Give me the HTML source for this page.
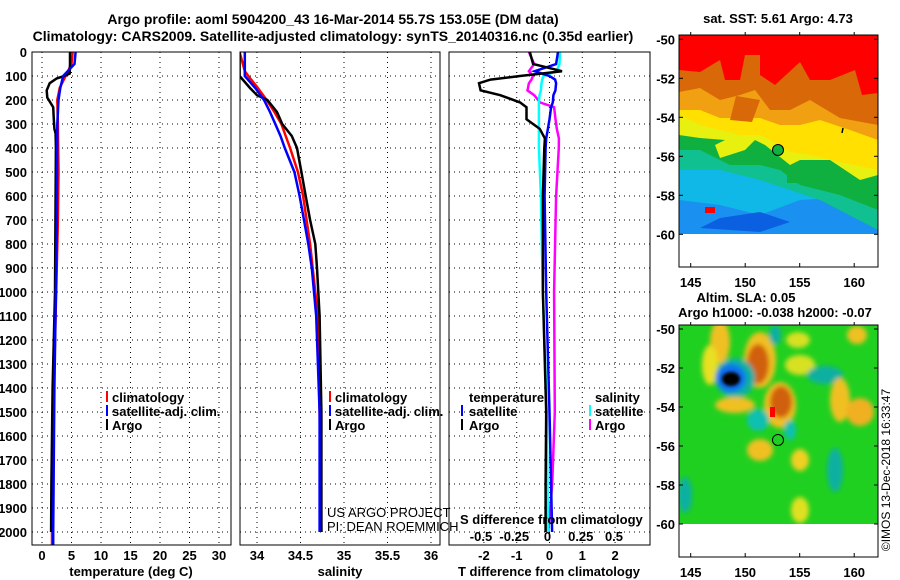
<!DOCTYPE html>
<html><head><meta charset="utf-8"><style>
body{margin:0;background:#fff;}
svg{display:block;font-family:"Liberation Sans",Arial,sans-serif;}
.b{font-weight:bold;font-size:13px;}
.t{font-weight:bold;font-size:14px;}
</style></head><body>
<svg id="fig" width="900" height="580" viewBox="0 0 900 580">
<defs>
<filter id="bl" x="-20%" y="-20%" width="140%" height="140%"><feGaussianBlur stdDeviation="2.5"/></filter>
<filter id="bl2" x="-20%" y="-20%" width="140%" height="140%"><feGaussianBlur stdDeviation="1.5"/></filter>
<clipPath id="c1"><rect x="679" y="35" width="199" height="199"/></clipPath>
<clipPath id="c2"><rect x="679" y="325" width="199" height="199"/></clipPath>
<clipPath id="p1"><rect x="32" y="52" width="199" height="493"/></clipPath>
<clipPath id="p2"><rect x="240" y="52" width="200" height="493"/></clipPath>
<clipPath id="p3"><rect x="449" y="52" width="201" height="493"/></clipPath>
</defs>
<text class="t" x="333" y="24" text-anchor="middle">Argo profile: aoml 5904200_43 16-Mar-2014 55.7S 153.05E (DM data)</text>
<text class="t" x="333" y="41" text-anchor="middle">Climatology: CARS2009. Satellite-adjusted climatology: synTS_20140316.nc (0.35d earlier)</text>
<g id="grid"></g>
<g id="series"></g>
<g id="frames"></g>

<g class="b">
<rect x="106" y="391" width="2" height="11" fill="#f00"/><text x="112" y="402">climatology</text>
<rect x="106" y="405" width="2" height="11" fill="#00f"/><text x="112" y="416">satellite-adj. clim.</text>
<rect x="106" y="419" width="2" height="11" fill="#000"/><text x="112" y="430">Argo</text>
</g>
<g class="b">
<rect x="329" y="391" width="2" height="11" fill="#f00"/><text x="335" y="402">climatology</text>
<rect x="329" y="405" width="2" height="11" fill="#00f"/><text x="335" y="416">satellite-adj. clim.</text>
<rect x="329" y="419" width="2" height="11" fill="#000"/><text x="335" y="430">Argo</text>
</g>
<g class="b">
<text x="469" y="402">temperature</text>
<rect x="461" y="405" width="2" height="11" fill="#00f"/><text x="469" y="416">satellite</text>
<rect x="461" y="419" width="2" height="11" fill="#000"/><text x="469" y="430">Argo</text>
<text x="595" y="402">salinity</text>
<rect x="589" y="405" width="2" height="11" fill="#0ff"/><text x="595" y="416">satellite</text>
<rect x="589" y="419" width="2" height="11" fill="#f0f"/><text x="595" y="430">Argo</text>
</g>
<text x="327" y="517" font-size="13">US ARGO PROJECT</text>
<text x="327" y="531" font-size="13">PI: DEAN ROEMMICH</text>
<text class="b" x="460" y="524">S difference from climatology</text>

<g>
<rect x="679" y="35" width="199" height="232" fill="#fff"/>
<g clip-path="url(#c1)">
<rect x="679" y="35" width="199" height="199" fill="#10b8e8"/>
<polygon points="679,200 720,205 760,215 800,200 878,195 878,234 679,234" fill="#1a90f0"/>
<polygon points="700,228 760,232 790,222 760,212 720,218" fill="#0a60e0"/>
<polygon points="679,120 878,120 878,230 820,200 790,190 760,180 720,170 679,170" fill="#10c090"/>
<polygon points="679,130 878,130 878,210 840,195 800,185 780,170 760,165 730,165 700,150 679,150" fill="#10b040"/>
<polygon points="679,80 878,80 878,175 860,180 830,160 800,160 790,165 765,145 755,140 745,150 720,158 715,145 725,140 700,138 679,135" fill="#e8f010"/>
<polygon points="679,80 878,80 878,170 840,162 810,155 790,152 770,140 760,135 740,135 720,130 700,125 679,115" fill="#ffe000"/>
<polygon points="679,60 878,60 878,140 850,130 820,120 800,125 780,125 760,118 740,118 720,118 700,110 679,110" fill="#f0a010"/>
<polygon points="679,55 878,55 878,125 840,118 810,100 790,110 770,110 755,90 740,95 720,100 700,88 679,92" fill="#d86808"/>
<polygon points="679,35 878,35 878,93 862,95 855,70 830,80 810,80 800,62 775,85 760,75 760,55 745,55 740,80 725,80 720,60 700,72 679,70" fill="#ff0000"/>
<polygon points="736,96 760,100 752,122 730,120" fill="#d86808"/>
<rect x="705" y="207" width="10" height="6" fill="#f00"/>
<rect x="787" y="165" width="14" height="18" fill="#10b040"/>
</g>
<circle cx="778" cy="150" r="5.5" fill="#10b040" stroke="#000" stroke-width="1"/>
<path d="M843 128 l-1 5" stroke="#000" stroke-width="1.5"/>
<rect x="679" y="35" width="199" height="232" fill="none" stroke="#000" stroke-width="1"/>
<text class="b" x="778" y="23" text-anchor="middle">sat. SST: 5.61 Argo: 4.73</text>
</g>

<g>
<rect x="679" y="325" width="199" height="232" fill="#fff"/>
<g clip-path="url(#c2)">
<rect x="679" y="325" width="199" height="199" fill="#20d020"/>
<g filter="url(#bl)">
<ellipse cx="720" cy="342" rx="10" ry="22" fill="#f0c020"/>
<ellipse cx="760" cy="360" rx="16" ry="28" fill="#f0c020"/>
<ellipse cx="758" cy="364" rx="11" ry="20" fill="#d06008"/>
<ellipse cx="710" cy="365" rx="8" ry="20" fill="#e8e020"/>
<ellipse cx="735" cy="378" rx="20" ry="20" fill="#10b0a0"/>
<ellipse cx="731" cy="378" rx="15" ry="14" fill="#1070f0"/>
<ellipse cx="735" cy="405" rx="20" ry="8" fill="#f0c020"/>
<ellipse cx="780" cy="405" rx="16" ry="23" fill="#f0c020"/>
<ellipse cx="781" cy="402" rx="11" ry="16" fill="#d06008"/>
<ellipse cx="758" cy="420" rx="11" ry="11" fill="#10c0b0"/>
<ellipse cx="790" cy="430" rx="6" ry="10" fill="#10c0b0"/>
<ellipse cx="800" cy="365" rx="15" ry="10" fill="#d8e020"/>
<ellipse cx="825" cy="375" rx="18" ry="9" fill="#10b0a0"/>
<ellipse cx="840" cy="400" rx="10" ry="22" fill="#f0c020"/>
<ellipse cx="860" cy="412" rx="14" ry="14" fill="#f0b020"/>
<ellipse cx="760" cy="450" rx="13" ry="11" fill="#f0c020"/>
<ellipse cx="800" cy="460" rx="9" ry="11" fill="#f0d020"/>
<ellipse cx="835" cy="470" rx="8" ry="22" fill="#10b0a0"/>
<ellipse cx="685" cy="495" rx="7" ry="18" fill="#10b0a0"/>
<ellipse cx="800" cy="510" rx="9" ry="13" fill="#e0e020"/>
<ellipse cx="857" cy="335" rx="10" ry="9" fill="#f0c020"/>
<ellipse cx="775" cy="335" rx="6" ry="10" fill="#10b0a0"/>
<ellipse cx="798" cy="340" rx="12" ry="8" fill="#d8e020"/>
</g>
<ellipse cx="731" cy="379" rx="9" ry="7" fill="#000" filter="url(#bl2)"/>
<rect x="770" y="407" width="5" height="10" fill="#f00"/>
</g>
<circle cx="778" cy="440" r="5.5" fill="#20d020" stroke="#000" stroke-width="1"/>
<rect x="679" y="325" width="199" height="232" fill="none" stroke="#000" stroke-width="1"/>
<text class="b" x="746" y="302" text-anchor="middle">Altim. SLA: 0.05</text>
<text class="b" x="775" y="317" text-anchor="middle">Argo h1000: -0.038 h2000: -0.07</text>
</g>
<text x="890" y="470" font-size="12" transform="rotate(-90 890 470)" text-anchor="middle">©IMOS 13-Dec-2018 16:33:47</text>
<g id="mapaxes"></g>
</svg>
<script>
const depths      = [0,50,90,100,110,130,160,190,210,230,280,320,340,400,600,800,1000,1400,1800,2000];
const argoT       = [4.75,4.75,4.7,3.8,2.5,1.3,0.8,0.9,1.4,1.9,2.0,2.1,2.3,2.35,2.3,2.25,2.2,1.8,1.6,1.55];
const climDepths  = [0,50,100,150,200,300,500,700,1000,1400,2000,2060];
const climT       = [5.2,5.0,4.0,3.0,2.6,2.7,2.8,2.7,2.4,2.0,1.7,1.7];
const satT        = [5.7,5.5,3.6,3.1,2.8,2.6,2.55,2.5,2.35,2.1,1.9,1.9];
const sDepths     = [0,80,100,150,180,200,250,300,350,400,500,600,700,800,900,1100,1500,2000];
const argoS       = [33.8,33.8,33.8,33.92,34.0,34.12,34.23,34.29,34.40,34.46,34.51,34.56,34.61,34.67,34.69,34.72,34.74,34.74];
const climS       = [33.8,33.86,33.9,34.01,34.07,34.11,34.2,34.28,34.33,34.38,34.47,34.53,34.57,34.61,34.64,34.70,34.72,34.74];
const satS        = [33.86,33.86,33.86,33.98,34.04,34.08,34.15,34.21,34.27,34.32,34.43,34.49,34.54,34.59,34.63,34.68,34.72,34.72];
const dDepths     = [0,50,80,100,115,130,160,180,210,230,280,320,360,400,600,1000,1500,1800,2000];
const argoDT      = [-0.6,-0.5,0.38,-0.9,-1.8,-2.15,-2.1,-1.5,-0.9,-0.7,-0.7,-0.3,-0.14,-0.16,-0.2,-0.2,-0.1,-0.12,-0.12];
const satDT       = [0.26,0.2,-0.45,0.0,0.17,0.2,0.18,0.12,0.1,0.05,0.0,-0.05,-0.1,-0.12,-0.15,-0.1,0.0,0.05,0.08];
const satDS       = [0.094,0.09,0.07,-0.03,-0.04,-0.045,-0.05,-0.06,-0.065,-0.065,-0.065,-0.065,-0.065,-0.065,-0.05,-0.035,-0.005,0.0,0.003];
const argoDS      = [-0.14,-0.1,-0.14,-0.11,-0.12,-0.14,-0.15,-0.1,-0.056,0.05,0.06,0.07,0.086,0.085,0.065,0.05,0.055,0.035,0.005];
const depthTicks  = [0,100,200,300,400,500,600,700,800,900,1000,1100,1200,1300,1400,1500,1600,1700,1800,1900,2000];
const tTicks      = [0,5,10,15,20,25,30];
const sTicks      = [34,34.5,35,35.5,36];
const dtTicks     = [-2,-1,0,1,2];
const dsTicks     = [-0.5,-0.25,0,0.25,0.5];
const latTicks    = [-50,-52,-54,-56,-58,-60];
const lonTicks    = [145,150,155,160];

const NS='http://www.w3.org/2000/svg';
const yD = d => 52 + d*0.24;
const xT = t => 42 + t*5.9;
const xS = s => 257 + (s-34)*87;
const xDT = v => 549.5 + v*32.8;
const xDS = v => 547.5 + v*133;
const yLat1 = l => 39.3 + (-50-l)*19.5;
const yLat2 = l => 329 + (-50-l)*19.5;
const xLon = l => 690.7 + (l-145)*10.9;

function mk(tag, attrs, parent){const e=document.createElementNS(NS,tag);for(const k in attrs)e.setAttribute(k,attrs[k]);document.getElementById(parent).appendChild(e);return e;}
const panels=[{x0:32,x1:231,ticks:tTicks,f:xT,title:'temperature (deg C)',tx:131,name:'temperature'},
              {x0:240,x1:440,ticks:sTicks,f:xS,title:'salinity',tx:340,name:'salinity'},
              {x0:449,x1:650,ticks:dtTicks,f:xDT,title:'T difference from climatology',tx:549,name:'difference'}];
panels.forEach(p=>{
  depthTicks.forEach(d=>{
    const l=mk('line',{x1:p.x0,x2:p.x1,y1:yD(d),y2:yD(d),stroke:'#000','stroke-width':1,'stroke-dasharray':'1,4'},'grid');
    
    
  });
  p.ticks.forEach(v=>{
    const x=p.f(v);
    const l=mk('line',{x1:x,x2:x,y1:52,y2:545,stroke:'#000','stroke-width':1,'stroke-dasharray':'1,4'},'grid');
    
    
    const t=mk('text',{x:x,y:560,'text-anchor':'middle','font-size':13,'font-weight':'bold'},'frames');
    t.textContent=String(v);
    
    
  });
  const r=mk('rect',{x:p.x0,y:52,width:p.x1-p.x0,height:493,fill:'none',stroke:'#000','stroke-width':1},'frames');
  
  
  const tt=mk('text',{x:p.tx,y:576,'text-anchor':'middle','font-size':13,'font-weight':'bold'},'frames');
  tt.textContent=p.title;
  
  
});
depthTicks.forEach(d=>{
  const t=mk('text',{x:27,y:yD(d)+5,'text-anchor':'end','font-size':13,'font-weight':'bold'},'frames');
  t.textContent=String(d);
  
  
});
dsTicks.forEach(v=>{
  const t=mk('text',{x:xDS(v),y:541,'text-anchor':'middle','font-size':13,'font-weight':'bold'},'frames');
  t.textContent=String(v);
  
  
});
function series(ds,vals,fx,color,clip,name){
  const pts=ds.map((d,i)=>fx(vals[i]).toFixed(1)+','+yD(d).toFixed(1)).join(' ');
  const pl=mk('polyline',{points:pts,fill:'none',stroke:color,'stroke-width':2.5,'clip-path':'url(#'+clip+')'},'series');
  
  
}
series(climDepths,climT,xT,'#f00','p1','climatology-temperature-line');
series(depths,argoT,xT,'#000','p1','argo-temperature-line');
series(climDepths,satT,xT,'#00f','p1','satellite-temperature-line');
series(sDepths,climS,xS,'#f00','p2','climatology-salinity-line');
series(sDepths,argoS,xS,'#000','p2','argo-salinity-line');
series(sDepths,satS,xS,'#00f','p2','satellite-salinity-line');
series(dDepths,argoDS,xDS,'#f0f','p3','argo-salinity-difference-line');
series(dDepths,satDS,xDS,'#0ff','p3','satellite-salinity-difference-line');
series(dDepths,satDT,xDT,'#00f','p3','satellite-temperature-difference-line');
series(dDepths,argoDT,xDT,'#000','p3','argo-temperature-difference-line');
[[yLat1,35,267],[yLat2,325,557]].forEach(([fy,top,bot])=>{
  latTicks.forEach(l=>{
    const t=mk('text',{x:675,y:fy(l)+5,'text-anchor':'end','font-size':13,'font-weight':'bold'},'mapaxes');
    t.textContent=String(l);
    
    
    mk('line',{x1:679,x2:683,y1:fy(l),y2:fy(l),stroke:'#000'},'mapaxes');
    mk('line',{x1:874,x2:878,y1:fy(l),y2:fy(l),stroke:'#000'},'mapaxes');
  });
  lonTicks.forEach(l=>{
    const t=mk('text',{x:xLon(l),y:bot+20,'text-anchor':'middle','font-size':13,'font-weight':'bold'},'mapaxes');
    t.textContent=String(l);
    
    
    mk('line',{x1:xLon(l),x2:xLon(l),y1:bot,y2:bot-4,stroke:'#000'},'mapaxes');
    mk('line',{x1:xLon(l),x2:xLon(l),y1:top,y2:top-3,stroke:'#000'},'mapaxes');
  });
});
</script>
</body></html>
